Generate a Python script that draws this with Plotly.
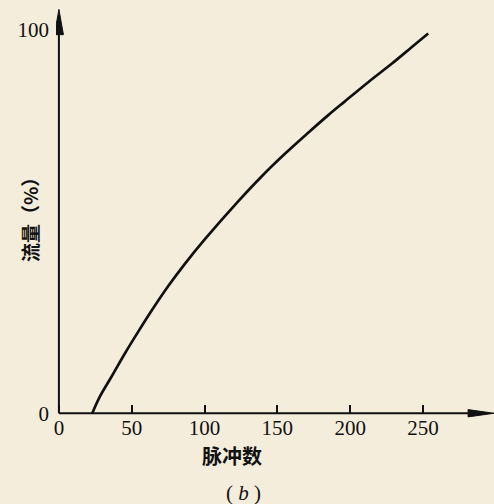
import plotly.graph_objects as go

# Flow vs. pulse count curve
pulses = [22.9, 28.2, 36.2, 45.3, 54.5, 63.7, 75.1, 86.5, 100, 123.1,
          139.2, 155.2, 171.2, 185, 196.4, 212.4, 228.5, 242.2, 253.6]
flow_pct = [0, 4.4, 9.6, 15.6, 21.3, 26.8, 33.2, 39.0, 45.3, 55.3,
            61.8, 67.7, 73.2, 77.8, 81.4, 86.4, 91.2, 95.5, 99.1]

x_ticks = [0, 50, 100, 150, 200, 250]
x_tick_text = ["0", "50", "100", "150", "200", "250"]
y_ticks = [0, 100]
y_tick_text = ["0", "100"]

x_title = "<b>脉冲数</b>"
y_title = "<b>流量（%）</b>"
caption = "( <i>b</i> )"

BG = "#F5EDDC"
INK = "#111111"

X_RANGE = [-2, 298.8]
Y_RANGE = [-1.5, 105.5]

fig = go.Figure()
fig.add_trace(go.Scatter(
    x=pulses, y=flow_pct, mode="lines",
    line=dict(color=INK, width=2.7, shape="spline", smoothing=1.0),
    hoverinfo="skip", showlegend=False,
))

# axis lines with arrowheads
shapes = [
    dict(type="line", xref="x", yref="y", x0=0, y0=0, x1=283, y1=0,
         line=dict(color=INK, width=2)),
    dict(type="line", xref="x", yref="y", x0=0, y0=0, x1=0, y1=100,
         line=dict(color=INK, width=2)),
    dict(type="path", xref="x", yref="y",
         path="M 281,-0.95 L 298.8,0 L 281,0.95 Z",
         fillcolor=INK, line=dict(color=INK, width=1)),
    dict(type="path", xref="x", yref="y",
         path="M -3.1,98.8 L 0,105.4 L 3.1,98.8 Z",
         fillcolor=INK, line=dict(color=INK, width=1)),
]

x_pos = (0 - Y_RANGE[0]) / (Y_RANGE[1] - Y_RANGE[0])
y_pos = (0 - X_RANGE[0]) / (X_RANGE[1] - X_RANGE[0])

tick_font = dict(family="Liberation Serif", size=21, color=INK)

fig.update_layout(
    width=494, height=504,
    margin=dict(l=56, r=0, t=9, b=85),
    paper_bgcolor=BG, plot_bgcolor=BG,
    font=dict(family="Liberation Serif", size=19, color=INK),
    shapes=shapes,
    xaxis=dict(
        range=X_RANGE, anchor="free", position=x_pos,
        showgrid=False, zeroline=False, showline=False,
        tickmode="array", tickvals=x_ticks, ticktext=x_tick_text,
        ticks="inside", ticklen=8, tickwidth=2, tickcolor=INK,
        tickfont=tick_font,
    ),
    yaxis=dict(
        range=Y_RANGE, anchor="free", position=y_pos,
        showgrid=False, zeroline=False, showline=False,
        tickmode="array", tickvals=y_ticks, ticktext=y_tick_text,
        ticks="", ticklabelstandoff=10,
        tickfont=tick_font,
    ),
    annotations=[
        dict(text=x_title, xref="paper", yref="paper", x=0.4018, y=-0.0902,
             showarrow=False, xanchor="center", yanchor="middle",
             font=dict(family="Noto Sans CJK SC", size=20, color=INK)),
        dict(text=y_title, xref="paper", yref="paper", x=-0.0594, y=0.4976,
             textangle=-90, showarrow=False, xanchor="center", yanchor="middle",
             font=dict(family="Noto Sans CJK SC", size=19, color=INK)),
        dict(text=caption, xref="paper", yref="paper", x=0.427, y=-0.1805,
             showarrow=False, xanchor="center", yanchor="middle",
             font=dict(family="Liberation Serif", size=21, color=INK)),
    ],
)

fig.write_html("out.html")
